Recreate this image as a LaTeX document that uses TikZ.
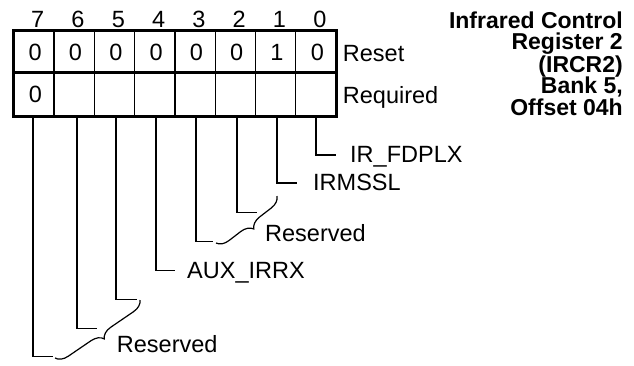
\documentclass[tikz,border=0pt]{standalone}
\usepackage{fontspec}
\setmainfont{Liberation Sans}
\usetikzlibrary{decorations.pathreplacing}
\begin{document}
\begin{tikzpicture}[x=1pt,y=-1pt,
  lbl/.style={font=\fontsize{23.5}{23.5}\selectfont, inner sep=0pt},
  ttl/.style={font=\bfseries\fontsize{23}{21.5}\selectfont, inner sep=0pt, align=right},
  reg/.style={line width=3pt},
  cell/.style={line width=1.2pt},
  lead/.style={line width=1.2pt},
  brc/.style={line width=1.2pt, decorate, decoration={brace, amplitude=12pt}}]
\useasboundingbox (0,0) rectangle (634,365);
% register cells
\foreach \k in {1,...,7} {
  \draw[cell] ({13.7+\k*40.3},30) -- ({13.7+\k*40.3},116);
}
\draw[reg] (13.7,30) rectangle (336.7,116);
\draw[reg] (13.7,72) -- (336.7,72);
% bit numbers and reset values
\foreach \i/\v in {7/0,6/0,5/0,4/0,3/0,2/0,1/1,0/0} {
  \node[lbl, anchor=base] (b\i) at ({13.7+(7-\i)*40.3+24},27) {\i};
  \node[lbl, anchor=base] (r\i) at ({13.7+(7-\i)*40.3+21.5},60.5) {\v};
}
\node[lbl, anchor=base] (q7) at (35.5,102.5) {0};
\node[lbl, anchor=base west] (reset) at (342.7,61.7) {Reset};
\node[lbl, anchor=base west] (req) at (342.7,103) {Required};
% title
\node[ttl, anchor=north east] (title) at (623,11.5) {Infrared Control\\Register 2\\(IRCR2)\\Bank 5,\\Offset 04h};
% leader start points
\coordinate (c7) at (33,116);
\coordinate (c6) at (77,116);
\coordinate (c5) at (116,116);
\coordinate (c4) at (156,116);
\coordinate (c3) at (196,116);
\coordinate (c2) at (237,116);
\coordinate (c1) at (277,116);
\coordinate (c0) at (316,116);
% leader end points
\coordinate (e0) at (335.7,155);
\coordinate (e1) at (296.7,183);
\coordinate (e2) at (256.7,212.7);
\coordinate (e3) at (213,241.7);
\coordinate (e4) at (175,270.7);
\coordinate (e5) at (136.7,299.3);
\coordinate (e6) at (96.7,328.3);
\coordinate (e7) at (53.3,356.7);
\foreach \i in {0,...,7} { \draw[lead] (c\i) |- (e\i); }
% labels
\node[lbl, anchor=base west] (l0) at (350,162) {IR\_FDPLX};
\node[lbl, anchor=base west] (l1) at (313,190.7) {IRMSSL};
\node[lbl, anchor=base west] (l23) at (265,241) {Reserved};
\node[lbl, anchor=base west] (l4) at (187,278) {AUX\_IRRX};
\node[lbl, anchor=base west] (l567) at (116.7,352) {Reserved};
% braces
\coordinate (br1a) at (277,196);
\coordinate (br1b) at (216,243);
\coordinate (br2a) at (140,300);
\coordinate (br2b) at (55,358);
\draw[brc] (br1a) -- (br1b);
\draw[brc] (br2a) -- (br2b);
\end{tikzpicture}
\end{document}
